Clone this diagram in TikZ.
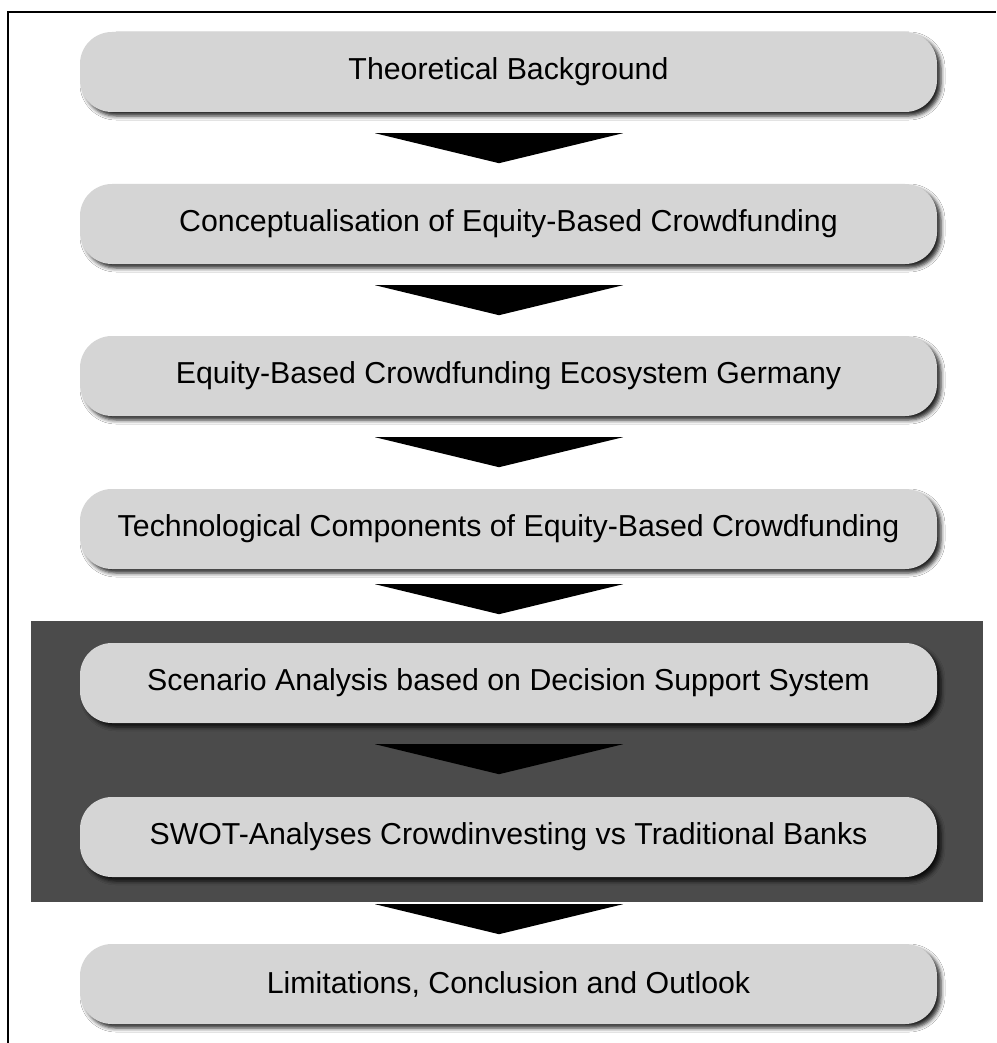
\documentclass[tikz,border=0pt]{standalone}
\usepackage{fontspec}
\setmainfont{Liberation Sans}
\usepackage{tikz}
\usetikzlibrary{shadows.blur}
\definecolor{stagegray}{RGB}{213,213,213}
\definecolor{blockgray}{RGB}{75,75,75}
\newcommand{\stagearrow}[2]{\fill[black] ([shift={(-133.5,#2)}]#1.south) -- ([shift={(114.5,#2)}]#1.south) -- ([shift={(-9.5,#2+30)}]#1.south) -- cycle;}
\tikzset{
  stage/.style={rounded corners=32pt, fill=stagegray, minimum width=857pt, minimum height=80pt,
    inner sep=0pt, font=\fontsize{30.3}{36}\selectfont,
    blur shadow={shadow xshift=4pt, shadow yshift=-4pt, shadow blur radius=4pt, shadow opacity=85}}
}
\begin{document}
\begin{tikzpicture}[x=1pt,y=-1pt]
\useasboundingbox (0,0) rectangle (996,1043);
\fill[white] (0,0) rectangle (996,1043);
\draw[line width=1.8pt] (8.3,1043) -- (8.3,11.7) -- (996,11.7);
\fill[blockgray] (31,621) rectangle (983,902);
\node[stage] (b1) at (508.5,72) {Theoretical Background};
\node[stage] (b2) at (508.5,224) {Conceptualisation of Equity-Based Crowdfunding};
\node[stage] (b3) at (508.5,376) {Equity-Based Crowdfunding Ecosystem Germany};
\node[stage] (b4) at (508.5,529) {Technological Components of Equity-Based Crowdfunding};
\node[stage] (b5) at (508.5,683) {Scenario Analysis based on Decision Support System};
\node[stage] (b6) at (508.5,837) {SWOT-Analyses Crowdinvesting vs Traditional Banks};
\node[stage] (b7) at (508.5,984) {Limitations, Conclusion and Outlook};
\foreach \b/\d in {b1/21, b2/21, b3/21, b4/15, b5/21, b6/27}{
  \stagearrow{\b}{\d}
}
\end{tikzpicture}
\end{document}
